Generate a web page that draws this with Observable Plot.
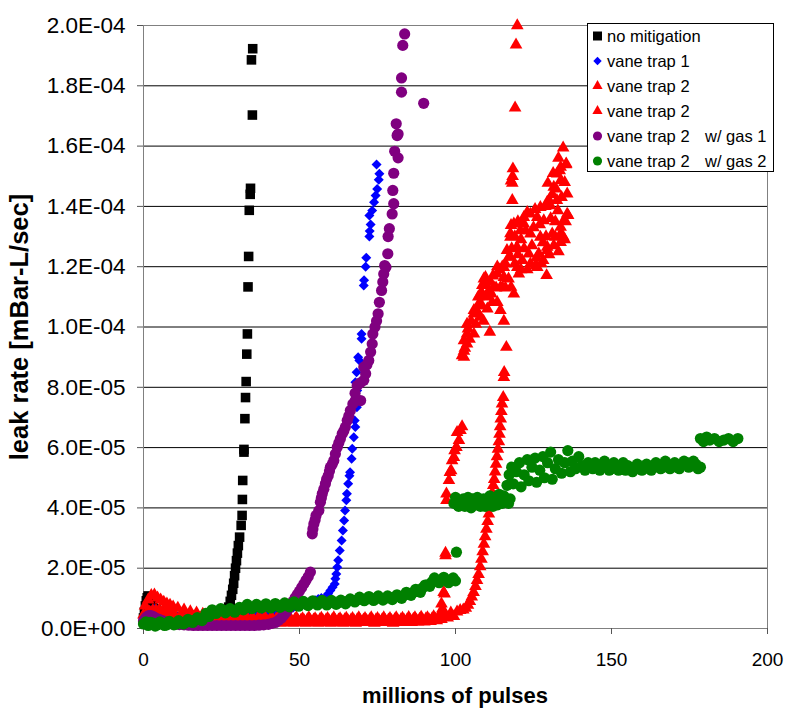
<!DOCTYPE html>
<html><head><meta charset="utf-8">
<script src="https://cdn.jsdelivr.net/npm/d3@7"></script>
<script src="https://cdn.jsdelivr.net/npm/@observablehq/plot@0.6"></script>
<style>body{margin:0;background:#fff}svg{display:block}</style>
</head><body><div id="chart"></div><script>
// [millions of pulses, leak rate mBar-L/sec]
const noMitigation = [
[0,0.35e-5],[0.3,0.55e-5],[0.6,0.75e-5],[0.9,0.92e-5],[1.2,1.02e-5],[1.5,1.08e-5],[1.9,1.05e-5],[2.4,0.95e-5],[3,0.8e-5],[4,0.65e-5],[5,0.55e-5],[6.5,0.48e-5],[8,0.42e-5],[10,0.4e-5],[12,0.38e-5],[14,0.36e-5],[16,0.36e-5],[18,0.37e-5],[20,0.38e-5],[22,0.4e-5],[24,0.42e-5],[25.5,0.46e-5],[26.3,0.52e-5],
[26.8,0.6e-5],[27.3,0.71e-5],[27.8,0.9e-5],[28.2,1.1e-5],[28.6,1.3e-5],[28.9,1.5e-5],[29.2,1.75e-5],[29.5,2.0e-5],[29.8,2.25e-5],[30.1,2.5e-5],[30.4,2.75e-5],[30.8,3.03e-5],[31.3,3.42e-5],[31.6,3.75e-5],[31.7,4.28e-5],[31.8,4.91e-5],[32.2,5.85e-5],[32.2,5.94e-5],[32.5,6.96e-5],[32.7,7.66e-5],[32.9,8.19e-5],[33.1,9.10e-5],[33.3,9.77e-5],[33.5,11.33e-5],[33.7,12.34e-5],[33.9,13.87e-5],[34.2,14.4e-5],[34.3,14.6e-5],[34.9,17.03e-5],[34.6,18.86e-5],[35.0,19.23e-5]
];
const vaneTrap1 = [
[0,0.25e-5],[0.5,0.32e-5],[1,0.4e-5],[1.5,0.48e-5],[2,0.55e-5],[2.5,0.6e-5],[3,0.63e-5],[3.5,0.65e-5],[4,0.63e-5],[4.5,0.6e-5],[5,0.57e-5],[5.5,0.54e-5],[6,0.5e-5],[7,0.47e-5],[8,0.44e-5],[9,0.42e-5],[10,0.4e-5],[11,0.39e-5],[12,0.38e-5],[13,0.37e-5],[14,0.36e-5],[15,0.36e-5],[16,0.36e-5],[17,0.36e-5],[18,0.37e-5],[19,0.37e-5],[20,0.38e-5],[21,0.38e-5],[22,0.39e-5],[23,0.4e-5],[24,0.4e-5],[25,0.41e-5],[26,0.42e-5],[27,0.42e-5],[28,0.43e-5],[29,0.44e-5],[30,0.45e-5],[31,0.45e-5],[32,0.46e-5],[33,0.47e-5],[34,0.48e-5],[35,0.48e-5],[36,0.5e-5],[37,0.5e-5],[38,0.52e-5],[39,0.53e-5],[40,0.55e-5],[41,0.56e-5],[42,0.58e-5],[43,0.6e-5],[44,0.62e-5],[45,0.64e-5],[46,0.66e-5],[47,0.68e-5],[48,0.7e-5],[49,0.73e-5],[50,0.76e-5],[51,0.79e-5],[52,0.82e-5],[53,0.86e-5],[54,0.9e-5],[55,0.94e-5],[56,0.98e-5],[57,1.01e-5],[58.3,1.04e-5],[59.2,1.15e-5],[59.9,1.26e-5],[60.6,1.37e-5],[61.3,1.48e-5],[61.5,1.65e-5],[61.8,1.81e-5],[62.1,2.03e-5],[62.4,2.26e-5],[62.9,2.59e-5],[63.5,2.92e-5],[63.9,3.25e-5],[64.3,3.58e-5],[64.6,3.91e-5],[65.0,4.25e-5],[65.2,4.47e-5],[65.6,4.80e-5],[66.0,5.07e-5],[66.2,5.18e-5],[66.7,5.63e-5],[66.9,5.96e-5],[67.4,6.34e-5],[67.9,6.68e-5],[67.7,6.9e-5],[68.4,7.34e-5],[68.7,7.62e-5],[68.5,7.89e-5],[67.9,8.17e-5],[68.3,8.5e-5],[69.2,8.89e-5],[68.8,9.0e-5],[69.9,9.61e-5],[69.9,9.77e-5],[70.6,11.38e-5],[70.7,11.55e-5],[71.2,12.0e-5],[71.4,12.3e-5],[72.4,13.0e-5],[72.5,13.18e-5],[72.8,13.4e-5],[72.4,13.7e-5],[73.3,13.86e-5],[73.9,14.14e-5],[74.4,14.36e-5],[74.9,14.58e-5],[75.4,14.88e-5],[75.6,15.08e-5],[74.7,15.39e-5]
];
const vaneTrap2a = [
[0,0.45e-5],[0.5,0.75e-5],[1,0.5e-5],[1.5,0.95e-5],[2,0.55e-5],[2.5,1.1e-5],[3,0.6e-5],[3.5,1.12e-5],[4,0.6e-5],[4.5,1.02e-5],[5,0.6e-5],[5.5,0.95e-5],[6,0.55e-5],[6.5,0.88e-5],[7,0.55e-5],[7.5,0.82e-5],[8,0.5e-5],[8.5,0.78e-5],[9,0.5e-5],[9.5,0.72e-5],[10,0.45e-5],[11,0.68e-5],[12,0.45e-5],[13,0.62e-5],[14,0.4e-5],[15,0.56e-5],[16,0.38e-5],[17,0.52e-5],[18,0.35e-5],[19,0.48e-5],[20,0.3e-5],[21,0.45e-5],[22,0.25e-5],[23,0.42e-5],[24,0.2e-5],[25,0.4e-5],[26,0.2e-5],[27,0.38e-5],[28,0.18e-5],[29,0.4e-5],[30,0.2e-5],[31,0.36e-5],[32,0.18e-5],[33,0.38e-5],[34,0.2e-5],[35,0.35e-5],[36,0.18e-5],[37,0.4e-5],[38,0.2e-5],[39,0.36e-5],[40,0.18e-5],[41,0.38e-5],[42,0.2e-5],[43,0.35e-5],[44,0.18e-5],[45,0.37e-5],[46,0.2e-5],[47,0.34e-5],[48,0.18e-5],[49,0.36e-5],[50,0.2e-5],[51,0.33e-5],[52,0.18e-5],[53,0.36e-5],[54,0.2e-5],[55,0.33e-5],[56,0.18e-5],[57,0.35e-5],[58,0.2e-5],[59,0.34e-5],[60,0.18e-5],[61,0.36e-5],[62,0.2e-5],[63,0.33e-5],[64,0.18e-5],[65,0.35e-5],[66,0.2e-5],[67,0.34e-5],[68,0.18e-5],[69,0.36e-5],[70,0.2e-5],[71,0.34e-5],[72,0.2e-5],[73,0.36e-5],[74,0.18e-5],[75,0.34e-5],[76,0.2e-5],[77,0.36e-5],[78,0.2e-5],[79,0.34e-5],[80,0.18e-5],[81,0.36e-5],[82,0.2e-5],[83,0.35e-5],[84,0.2e-5],[85,0.37e-5],[86,0.2e-5],[87,0.36e-5],[88,0.22e-5],[89,0.38e-5],[90,0.22e-5],[91,0.36e-5],[92,0.24e-5],[93,0.4e-5],[94,0.26e-5],[95,0.45e-5],
[0.25,0.3e-5],[1.25,0.35e-5],[2.25,0.4e-5],[3.25,0.42e-5],[4.25,0.4e-5],[5.25,0.4e-5],[6.25,0.38e-5],[7.25,0.36e-5],[8.25,0.34e-5],[9.25,0.32e-5],[10.5,0.3e-5],[11.5,0.3e-5],[12.5,0.28e-5],[13.5,0.28e-5],[14.5,0.26e-5],[15.5,0.25e-5],[16.5,0.24e-5],[17.5,0.22e-5],[18.5,0.2e-5],[19.5,0.2e-5],
[20.5,0.32e-5],[21.5,0.27e-5],[22.5,0.33e-5],[23.5,0.28e-5],[24.5,0.32e-5],[25.5,0.27e-5],[26.5,0.31e-5],[27.5,0.28e-5],[28.5,0.32e-5],[29.5,0.27e-5],[30.5,0.31e-5],[31.5,0.27e-5],[32.5,0.3e-5],[33.5,0.28e-5],[34.5,0.31e-5],[35.5,0.27e-5],[36.5,0.3e-5],[37.5,0.28e-5],[38.5,0.31e-5],[39.5,0.27e-5],[40.5,0.3e-5],[41.5,0.27e-5],[42.5,0.31e-5],[43.5,0.27e-5],[44.5,0.3e-5],[45.5,0.27e-5],[46.5,0.3e-5],[47.5,0.26e-5],[48.5,0.3e-5],[49.5,0.27e-5],[50.5,0.29e-5],[51.5,0.26e-5],[52.5,0.3e-5],[53.5,0.27e-5],[54.5,0.29e-5],[55.5,0.26e-5],[56.5,0.3e-5],[57.5,0.27e-5],[58.5,0.29e-5],[59.5,0.26e-5],[60.5,0.3e-5],[61.5,0.27e-5],[62.5,0.29e-5],[63.5,0.26e-5],[64.5,0.3e-5],[65.5,0.27e-5],[66.5,0.29e-5],[67.5,0.26e-5],[68.5,0.3e-5],[69.5,0.27e-5],[70.5,0.29e-5],[71.5,0.27e-5],[72.5,0.3e-5],[73.5,0.27e-5],[74.5,0.29e-5],[75.5,0.27e-5],[76.5,0.3e-5],[77.5,0.27e-5],[78.5,0.29e-5],[79.5,0.27e-5],[80.5,0.3e-5],[81.5,0.27e-5],[82.5,0.3e-5],[83.5,0.28e-5],[84.5,0.3e-5],[85.5,0.28e-5],[86.5,0.31e-5],[87.5,0.28e-5],[88.5,0.31e-5],[89.5,0.29e-5],[90.5,0.32e-5],[91.5,0.3e-5],[92.5,0.33e-5],[93.5,0.32e-5],[94.5,0.36e-5],
[95.5,0.3e-5],[96.5,0.5e-5],[97.5,0.35e-5],[98.5,0.52e-5],[99.5,0.4e-5],[100.5,0.55e-5],[101.5,0.6e-5],[102.5,0.62e-5],[103.3,0.68e-5],[104,0.78e-5],[104.6,0.9e-5],[105.2,1.05e-5],[105.8,1.2e-5],[106.4,1.4e-5],[106.9,1.6e-5],[107.4,1.8e-5],[107.9,2.05e-5],[108.3,2.3e-5],[108.7,2.55e-5],[109.1,2.8e-5],[109.5,3.05e-5],[109.9,3.3e-5],[110.3,3.55e-5],[110.7,3.8e-5],[111.1,4.05e-5],[111.5,4.3e-5],[111.8,4.5e-5],[112.1,4.75e-5],[112.4,4.95e-5],[112.7,5.2e-5],[113.0,5.45e-5],[113.3,5.7e-5],[113.6,5.95e-5],[113.9,6.2e-5],[114.1,6.45e-5],[114.3,6.7e-5],[114.5,6.95e-5],[114.7,7.2e-5],[114.9,7.45e-5],[115.3,7.67e-5],[115.5,8.33e-5],[115.6,8.5e-5],[116.3,9.33e-5],[115.5,10.2e-5],[118.2,14.2e-5],[118.2,14.77e-5],[117.8,14.85e-5],[118.3,15.0e-5],[118.4,15.25e-5],[119.1,17.27e-5],[119.4,19.36e-5],[119.8,20.0e-5]
];
const vaneTrap2b = [
[95.5,0.82e-5],[95.8,0.65e-5],[96.2,1.2e-5],[96.5,1.15e-5],[96.8,2.42e-5],[96.8,2.5e-5],
[97.1,4.25e-5],[97.1,4.47e-5],[97.9,4.91e-5],[98.2,5.18e-5],[98.6,5.24e-5],[98.9,5.57e-5],[99.5,5.68e-5],[99.7,5.9e-5],[100.3,6.01e-5],[101.1,6.24e-5],[100.5,6.51e-5],[101.6,6.57e-5],[102.1,6.7e-5],
[102.7,9.0e-5],[102.1,9.05e-5],[102.7,9.2e-5],[103.7,9.44e-5],[102.7,9.55e-5],[103.7,9.77e-5],[104.0,9.94e-5],[103.7,10.1e-5],[105.9,9.77e-5],[108,10.33e-5],[105.9,10.44e-5],[105.9,10.55e-5],[110.2,10.6e-5],[107.5,10.77e-5],[111.8,10.82e-5],[113.4,10.82e-5],[107.3,11.0e-5],[108.6,11.1e-5],[108.0,11.1e-5],[110.7,11.21e-5],[114.4,11.32e-5],[108.6,11.38e-5],[109.6,11.43e-5],[111.2,11.49e-5],[109.1,11.6e-5],[109.6,11.65e-5],[111.0,9.83e-5],[114.4,10.55e-5],[112.3,11.32e-5],[113.4,11.76e-5],[115.5,11.65e-5],[115,11.32e-5],[117.8,11.32e-5],[118.7,11.1e-5],[113.4,12.0e-5],[117.1,12.32e-5],[115.5,11.98e-5],[117.5,12.33e-5],[116.5,12.54e-5],[117.6,12.98e-5],[117.6,13.1e-5],[117.8,13.37e-5],[118.7,13.42e-5],[119.7,12.65e-5],[119.8,11.98e-5],[120.3,11.76e-5],[120.8,13.2e-5],[121.4,12.21e-5],[121.9,13.42e-5],[121.9,13.64e-5],[123.5,12.43e-5],[124,12.1e-5],[124,13.09e-5],[124,13.75e-5],[125.6,12.04e-5],[126.2,11.98e-5],[126.2,13.64e-5],[126.7,12.43e-5],[127.2,12.98e-5],[127.2,13.97e-5],[128.1,12.21e-5],[128.3,13.53e-5],[129.2,11.71e-5],[129.4,12.54e-5],[129.4,12.65e-5],[129.4,14.14e-5],[129.6,14.77e-5],[130,14.2e-5],[130.4,14.03e-5],[131,13.09e-5],[131.3,15.1e-5],[131.5,14.64e-5],[132,12.98e-5],[132.2,14.58e-5],[132.6,15.08e-5],[132.8,13.86e-5],[133.4,15.19e-5],[133.7,13.31e-5],[133.7,14.86e-5],[133.7,12.81e-5],[133.7,13.09e-5],[133.7,15.3e-5],[134.5,15.94e-5],[134.7,13.53e-5],[135.3,13.5e-5],[135.4,15.39e-5],[135.5,15.41e-5],[135.8,14.42e-5],[135.8,13.75e-5],[136.1,13.7e-5],
[103,9.3e-5],[104.5,9.6e-5],[105,10.2e-5],[106.5,10.1e-5],[107,10.5e-5],[108.5,10.7e-5],[109,10.2e-5],[110,11.0e-5],[111.5,11.1e-5],[112,11.7e-5],[113,11.3e-5],[114,11.9e-5],[115,12.0e-5],[116,11.3e-5],[116,12.1e-5],[117,11.6e-5],[118,12.6e-5],[119,12.1e-5],[119,13.0e-5],[120,12.4e-5],[120,13.5e-5],[121,11.9e-5],[121,12.9e-5],[122,12.6e-5],[122.5,13.2e-5],[123,11.9e-5],[123,13.8e-5],[124.5,12.7e-5],[125,13.3e-5],[125.5,13.9e-5],[126,12.3e-5],[127,13.4e-5],[127.5,12.1e-5],[128,12.8e-5],[128.8,14.0e-5],[129,13.0e-5],[130,12.4e-5],[130.5,13.6e-5],[131,14.4e-5],[131.5,12.7e-5],[132,13.5e-5],[132.5,14.2e-5],[133,12.5e-5],[133,15.6e-5],[134,14.3e-5],[134.5,13.0e-5],[135,14.8e-5],[135,12.9e-5]
];
const vaneTrap2Gas1 = [
[0,0.25e-5],[0.5,0.32e-5],[1,0.38e-5],[1.5,0.42e-5],[2,0.43e-5],[2.5,0.42e-5],[3,0.4e-5],[3.5,0.37e-5],[4,0.34e-5],[5,0.3e-5],[6,0.26e-5],[7,0.22e-5],[8,0.18e-5],[9,0.16e-5],[10,0.14e-5],[11.5,0.13e-5],[13,0.12e-5],[14.5,0.11e-5],[16,0.1e-5],[17.5,0.1e-5],[19,0.1e-5],[20.5,0.1e-5],[22,0.1e-5],[23.5,0.1e-5],[25,0.1e-5],[26.5,0.1e-5],[28,0.1e-5],[29.5,0.1e-5],[31,0.1e-5],[32.5,0.1e-5],[34,0.1e-5],[35.5,0.1e-5],[37,0.11e-5],[38.5,0.12e-5],[40,0.14e-5],[41.2,0.17e-5],[42.3,0.2e-5],[43.3,0.27e-5],[44.2,0.35e-5],[45,0.45e-5],[45.8,0.55e-5],[46.5,0.66e-5],[47.2,0.78e-5],[47.9,0.9e-5],[48.6,1.02e-5],[49.3,1.13e-5],[50,1.24e-5],[50.7,1.36e-5],[51.4,1.48e-5],[52.1,1.6e-5],[52.8,1.72e-5],[53.5,1.87e-5],
[54.1,3.14e-5],[54.3,3.3e-5],[54.6,3.47e-5],[55.0,3.6e-5],[55.3,3.75e-5],[56.2,3.91e-5],[56.7,4.19e-5],[57.0,4.33e-5],[57.3,4.47e-5],[57.8,4.62e-5],[58.3,4.80e-5],[58.7,4.95e-5],[59.2,5.07e-5],[59.6,5.22e-5],[59.9,5.35e-5],[60.5,5.45e-5],[61.0,5.57e-5],[61.5,5.79e-5],[62.1,6.01e-5],[62.6,6.15e-5],[63.1,6.29e-5],[63.7,6.46e-5],[64.2,6.55e-5],[64.7,6.68e-5],[65.3,6.90e-5],[65.8,7.05e-5],[66.3,7.23e-5],[67.1,7.45e-5],[67.9,7.56e-5],[69.6,7.56e-5],[67.8,7.8e-5],[68.5,8.06e-5],[69.5,8.15e-5],[70.6,8.23e-5],[71.2,8.45e-5],[70.6,8.67e-5],[71.6,8.75e-5],[72.2,8.89e-5],[72.8,9.17e-5],[73.3,9.44e-5],[73.5,9.77e-5],[74.2,10.0e-5],[74.7,10.2e-5],[75.2,10.44e-5],[75.6,10.82e-5],[76.3,11.21e-5],[76.7,11.49e-5],[77.0,11.76e-5],[77.3,12.04e-5],[77.7,11.98e-5],[78.3,12.43e-5],[78.4,13.0e-5],[78.8,13.26e-5],[79.7,13.75e-5],[80.2,14.09e-5],[79.9,14.53e-5],[80.2,15.1e-5],[81.6,15.61e-5],[80.5,15.83e-5],[81.3,16.35e-5],[81.6,16.4e-5],[81.0,16.74e-5],[82.7,17.79e-5],[89.8,17.42e-5],[82.7,18.26e-5],[83.1,19.34e-5],[83.7,19.72e-5]
];
const vaneTrap2Gas2 = [
[0,0.15e-5],[1.5,0.1e-5],[3,0.18e-5],[4.5,0.12e-5],[6,0.16e-5],[7.5,0.12e-5],[9,0.18e-5],[10.5,0.15e-5],[12,0.2e-5],[13.5,0.2e-5],[15,0.25e-5],[16.5,0.28e-5],[18,0.3e-5],[19.5,0.36e-5],[20.5,0.45e-5],[21.5,0.52e-5],[22.5,0.56e-5],[24,0.58e-5],[25.5,0.6e-5],[27,0.6e-5],[28.5,0.6e-5],[30,0.62e-5],[31.5,0.66e-5],[32.5,0.7e-5],[34,0.72e-5],[35.5,0.72e-5],[37,0.73e-5],[38.5,0.74e-5],[40,0.74e-5],[41.5,0.75e-5],[43,0.76e-5],[44.5,0.77e-5],[46,0.78e-5],[47.5,0.8e-5],[49,0.8e-5],[50.5,0.81e-5],[52,0.82e-5],[53.5,0.84e-5],[55,0.85e-5],[56.5,0.85e-5],[58,0.85e-5],[59.5,0.86e-5],[61,0.86e-5],[62.5,0.86e-5],[64,0.88e-5],[65.5,0.9e-5],[67,0.93e-5],[68.5,0.95e-5],[70,0.97e-5],[71.5,0.98e-5],[73,0.99e-5],[74.5,1.0e-5],[76,1.0e-5],[77.5,1.0e-5],[79,1.02e-5],[80.5,1.04e-5],[82,1.06e-5],[83.5,1.1e-5],[85,1.15e-5],[86.5,1.2e-5],[88,1.27e-5],[89.5,1.35e-5],[91,1.45e-5],[92.5,1.55e-5],[94,1.6e-5],[95.5,1.62e-5],[97,1.62e-5],[98.5,1.6e-5],[100,1.58e-5],
[0.75,0.22e-5],[2.25,0.2e-5],[3.75,0.08e-5],[5.25,0.22e-5],[6.75,0.1e-5],[8.25,0.24e-5],[9.75,0.12e-5],[11.25,0.26e-5],[12.75,0.15e-5],[14.25,0.3e-5],[15.75,0.2e-5],[17.25,0.36e-5],[18.75,0.26e-5],[20,0.5e-5],[21,0.4e-5],[22,0.62e-5],[23.25,0.5e-5],[24.75,0.66e-5],[26.25,0.52e-5],[27.75,0.66e-5],[29.25,0.54e-5],[30.75,0.7e-5],[32,0.62e-5],[33.25,0.8e-5],[34.75,0.66e-5],[36.25,0.8e-5],[37.75,0.68e-5],[39.25,0.82e-5],[40.75,0.68e-5],[42.25,0.83e-5],[43.75,0.7e-5],[45.25,0.85e-5],[46.75,0.72e-5],[48.25,0.88e-5],[49.75,0.74e-5],[51.25,0.9e-5],[52.75,0.76e-5],[54.25,0.92e-5],[55.75,0.78e-5],[57.25,0.93e-5],[58.75,0.78e-5],[60.25,0.93e-5],[61.75,0.8e-5],[63.25,0.94e-5],[64.75,0.82e-5],[66.25,0.98e-5],[67.75,0.88e-5],[69.25,1.04e-5],[70.75,0.92e-5],[72.25,1.06e-5],[73.75,0.93e-5],[75.25,1.08e-5],[76.75,0.94e-5],[78.25,1.08e-5],[79.75,0.96e-5],[81.25,1.12e-5],[82.75,1.0e-5],[84.25,1.2e-5],[85.75,1.1e-5],[87.25,1.3e-5],[88.75,1.2e-5],[90.25,1.44e-5],[91.75,1.4e-5],[93.25,1.68e-5],[94.75,1.52e-5],[96.25,1.7e-5],[97.75,1.52e-5],[99.25,1.68e-5],
[100.3,2.53e-5],
[99.5,4.15e-5],[100.5,4.25e-5],[101.5,4.1e-5],[102.5,4.3e-5],[103.5,4.2e-5],[104.5,4.15e-5],[105.5,4.3e-5],[106.5,4.1e-5],[107.5,4.25e-5],[108.5,4.2e-5],[109.5,4.05e-5],[110.5,4.3e-5],[111.5,4.15e-5],[112.5,4.35e-5],[113.5,4.1e-5],[114.5,4.25e-5],[115.5,4.4e-5],[116.5,4.2e-5],[117.5,4.3e-5],
[100,4.35e-5],[101,4.05e-5],[102,4.2e-5],[103,4.05e-5],[104,4.35e-5],[105,4.0e-5],[106,4.25e-5],[107,4.35e-5],[108,4.05e-5],[109,4.3e-5],[110,4.15e-5],[111,4.4e-5],[112,4.05e-5],[113,4.25e-5],[114,4.45e-5],[115,4.15e-5],[116,4.3e-5],[117,4.15e-5],
[116.5,4.75e-5],[117.2,5.1e-5],[118,5.35e-5],[118.5,4.8e-5],[119.5,5.2e-5],[120.5,5.5e-5],[121,4.7e-5],[122,5.1e-5],[123,5.6e-5],[123.5,4.9e-5],[124.5,5.35e-5],[125.5,5.65e-5],[126,4.85e-5],[127,5.25e-5],[128,5.7e-5],[128.5,5.0e-5],[129.5,5.5e-5],[130.5,5.85e-5],[131,4.95e-5],[132,5.3e-5],[133,5.6e-5],[134,5.15e-5],[135,5.5e-5],[136,5.9e-5],[136.8,5.2e-5],[137.5,5.55e-5],[138.5,5.3e-5],[139.5,5.7e-5],[140.5,5.4e-5],[141.5,5.25e-5],[142.5,5.5e-5],[143.5,5.35e-5],
[144,5.3e-5],[145.5,5.4e-5],[147,5.45e-5],[148.5,5.35e-5],[150,5.3e-5],[151.5,5.4e-5],[153,5.38e-5],[154.5,5.25e-5],[156,5.3e-5],[157.5,5.35e-5],[159,5.3e-5],[160.5,5.35e-5],[162,5.3e-5],[163.5,5.35e-5],[165,5.4e-5],[166.5,5.35e-5],[168,5.45e-5],[169.5,5.4e-5],[171,5.35e-5],[172.5,5.45e-5],[174,5.5e-5],[175.5,5.4e-5],[177,5.45e-5],[178.5,5.35e-5],
[144.75,5.5e-5],[146.25,5.25e-5],[147.75,5.55e-5],[149.25,5.25e-5],[150.75,5.5e-5],[152.25,5.25e-5],[153.75,5.5e-5],[155.25,5.4e-5],[156.75,5.2e-5],[158.25,5.45e-5],[159.75,5.25e-5],[161.25,5.45e-5],[162.75,5.25e-5],[164.25,5.5e-5],[165.75,5.3e-5],[167.25,5.55e-5],[168.75,5.3e-5],[170.25,5.5e-5],[171.75,5.3e-5],[173.25,5.55e-5],[174.75,5.35e-5],[176.25,5.55e-5],[177.75,5.3e-5],
[178.5,6.3e-5],[179.5,6.2e-5],[180.5,6.35e-5],[181.5,6.25e-5],[183,6.3e-5],[184.5,6.2e-5],[186,6.25e-5],[187.5,6.3e-5],[189,6.2e-5],[190.5,6.3e-5]
];

const seriesNames = ["no mitigation","vane trap 1","vane trap 2","vane trap 2","vane trap 2   w/ gas 1","vane trap 2   w/ gas 2"];
const seriesColors = ["#000000","#0000ff","#ff0000","#ff0000","#800080","#008000"];
const seriesSymbols = ["square","diamond2","triangle","triangle","circle","circle"];
const seriesData = [noMitigation, vaneTrap1, vaneTrap2a, vaneTrap2b, vaneTrap2Gas1, vaneTrap2Gas2];
const xTicks = [0, 50, 100, 150, 200];
const yTicks = [0, 2e-5, 4e-5, 6e-5, 8e-5, 1e-4, 1.2e-4, 1.4e-4, 1.6e-4, 1.8e-4, 2e-4];
const yTickLabels = ["0.0E+00","2.0E-05","4.0E-05","6.0E-05","8.0E-05","1.0E-04","1.2E-04","1.4E-04","1.6E-04","1.8E-04","2.0E-04"];
const xTitle = "millions of pulses";
const yTitle = "leak rate [mBar-L/sec]";

const symbolR = {square: 5.4, diamond2: 4.5, triangle: 4.7, circle: 5.6};
const FONT = "Arial, 'Liberation Sans', sans-serif";

const dotMarks = seriesData.map((data, i) => Plot.dot(data, {
  x: d => d[0], y: d => d[1], symbol: () => seriesSymbols[i],
  fill: seriesColors[i], stroke: "none", r: symbolR[seriesSymbols[i]]
}));

const chart = Plot.plot({
  width: 785, height: 708,
  marginLeft: 143, marginRight: 18, marginTop: 25, marginBottom: 80,
  style: {fontFamily: FONT, fontSize: "19px", background: "#fff", color: "#000"},
  x: {domain: [0, 200]},
  y: {domain: [0, 2e-4]},
  symbol: {type: "identity"},
  marks: [
    Plot.gridY(yTicks, {stroke: "#000", strokeOpacity: 1, strokeWidth: 1}),
    Plot.frame({stroke: "#808080"}),
    Plot.axisY(yTicks, {tickSize: 6, tickPadding: 12, stroke: "#555", fontSize: 22.5,
      tickFormat: d => yTickLabels[yTicks.indexOf(d)], label: null}),
    Plot.axisX(xTicks, {tickSize: 6, tickPadding: 18, stroke: "#555", fontSize: 19,
      tickFormat: d => String(d), label: null}),
    ...dotMarks
  ]
});
document.getElementById("chart").appendChild(chart);

const svg = d3.select(chart);
svg.append("text").attr("x", 455).attr("y", 703).attr("text-anchor", "middle")
  .attr("font-family", FONT).attr("font-weight", "bold").attr("font-size", 22).text(xTitle);
svg.append("text").attr("transform", "translate(28,327) rotate(-90)").attr("text-anchor", "middle")
  .attr("font-family", FONT).attr("font-weight", "bold").attr("font-size", 25.5).text(yTitle);

const symMap = {square: d3.symbolSquare, diamond2: d3.symbolDiamond2, triangle: d3.symbolTriangle, circle: d3.symbolCircle};
const symArea = {square: 81, diamond2: 45, triangle: 45, circle: 66};
const lg = svg.append("g").attr("text-anchor", "start");
lg.append("rect").attr("x", 587.5).attr("y", 23.5).attr("width", 186).attr("height", 148)
  .attr("fill", "#fff").attr("stroke", "#000");
seriesNames.forEach((name, i) => {
  const cy = 36 + i * 25;
  const sym = seriesSymbols[i];
  lg.append("path").attr("transform", `translate(597.5,${cy})`)
    .attr("d", d3.symbol(symMap[sym], symArea[sym])()).attr("fill", seriesColors[i]);
  const parts = name.split(/\s{2,}/);
  const t = lg.append("text").attr("y", cy).attr("dy", "0.36em").attr("text-anchor", "start")
    .attr("font-family", FONT).attr("font-size", 16.5).attr("fill", "#000");
  t.append("tspan").attr("x", 607).text(parts[0]);
  if (parts[1]) t.append("tspan").attr("x", 705).text(parts[1]);
});
</script></body></html>
